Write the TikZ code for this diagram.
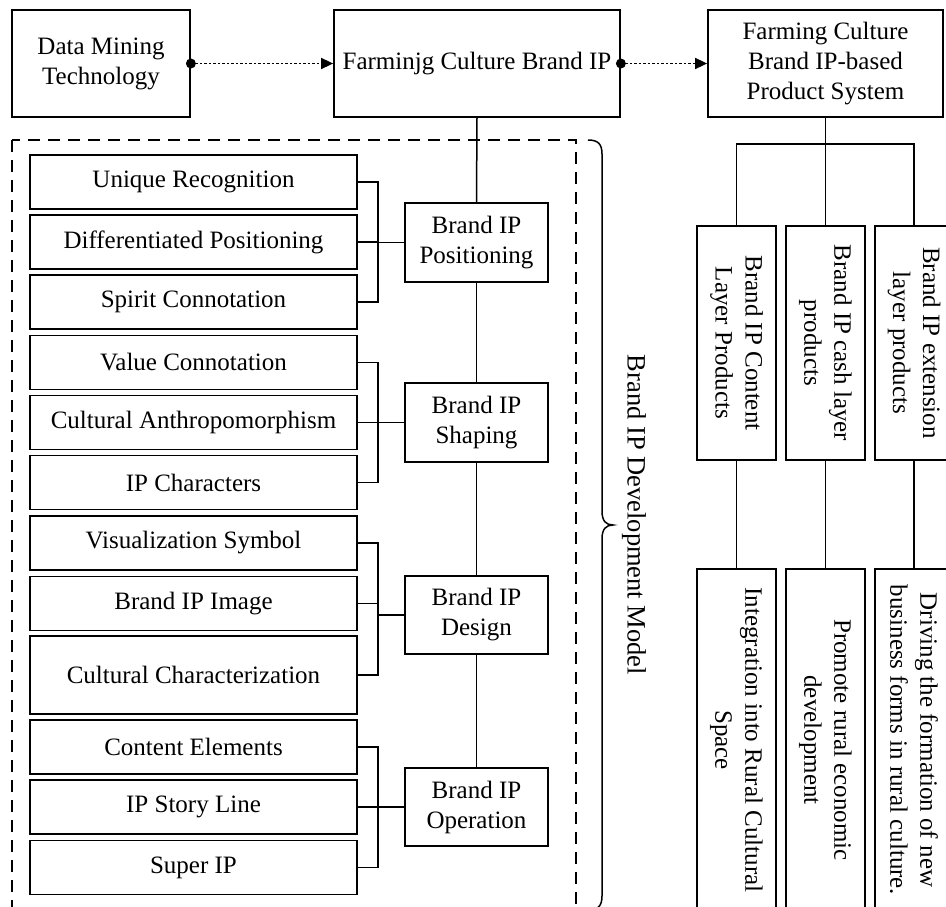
\documentclass[tikz,border=0pt]{standalone}
\usepackage{fontspec}
\setmainfont{Liberation Serif}
\usetikzlibrary{arrows.meta}
\begin{document}
\begin{tikzpicture}[x=1pt,y=-1pt,
  box/.style={draw, line width=1.8pt, inner sep=0pt, align=center, font=\fontsize{25}{30}\selectfont},
  lbox/.style={box, minimum width=327pt, minimum height=54pt},
  bbox/.style={box, minimum width=143pt, minimum height=79pt},
  topbox/.style={box, minimum height=107pt},
  pbox/.style={box, rotate=-90, minimum height=79pt},
  line/.style={line width=1.5pt},
  dotarrow/.style={line width=1.6pt, dash pattern=on 2.5pt off 2pt, -{Triangle[length=12pt,width=11pt]}},
  dashbox/.style={line width=1.6pt, dash pattern=on 12pt off 8pt},
  lbl/.style={font=\fontsize{26.5}{30}\selectfont, rotate=-90, inner sep=0pt}
]
\useasboundingbox (0,0) rectangle (946,907);
\clip (0,0) rectangle (946,907);

% top row
\node[topbox, minimum width=178pt] (dmt) at (101,63.5) {Data Mining\\Technology};
\node[topbox, minimum width=286pt] (farm) at (477,63.5) {Farminjg Culture Brand IP};
\node[topbox, minimum width=235pt] (sys) at (825.5,63.5) {Farming Culture\\Brand IP-based\\Product System};

\draw[dotarrow] (dmt.east) -- (farm.west);
\fill (dmt.east) circle (5pt);
\draw[dotarrow] (farm.east) -- (sys.west);
\fill (farm.east) circle (5pt);

% dashed model frame
\draw[dashbox] (12,140) rectangle (576,920);

% left boxes
\node[lbox] (u1) at (193.5,182) {Unique Recognition};
\node[lbox] (u2) at (193.5,242) {Differentiated Positioning};
\node[lbox] (u3) at (193.5,302) {Spirit Connotation};
\node[lbox] (s1) at (193.5,362.5) {Value Connotation};
\node[lbox] (s2) at (193.5,422.5) {Cultural Anthropomorphism};
\node[lbox] (s3) at (193.5,482.5) {IP Characters};
\node[lbox] (d1) at (193.5,543) {Visualization Symbol};
\node[lbox] (d2) at (193.5,603.5) {Brand IP Image};
\node[lbox, minimum height=78pt] (d3) at (193.5,675) {Cultural Characterization};
\node[lbox] (o1) at (193.5,747) {Content Elements};
\node[lbox] (o2) at (193.5,807) {IP Story Line};
\node[lbox] (o3) at (193.5,867.5) {Super IP};

% brand IP boxes
\node[bbox] (bp1) at (476.5,242.5) {Brand IP\\Positioning};
\node[bbox] (bp2) at (476.5,422.5) {Brand IP\\Shaping};
\node[bbox, minimum height=78pt] (bp3) at (476.5,615) {Brand IP\\Design};
\node[bbox, minimum height=78pt] (bp4) at (476.5,807) {Brand IP\\Operation};

\coordinate (brk) at (378,0);
\foreach \a/\b/\c/\m in {u1/u2/u3/bp1, s1/s2/s3/bp2, d1/d2/d3/bp3, o1/o2/o3/bp4} {
  \draw[line] (\a.east) -| (brk |- \c.east) -- (\c.east);
  \draw[line] (\b.east) -- (brk |- \b.east);
  \draw[line] (\m.west) -- (brk |- \m.west);
}

\draw[line] (farm.south) -- (bp1.north);
\draw[line] (bp1.south) -- (bp2.north);
\draw[line] (bp2.south) -- (bp3.north);
\draw[line] (bp3.south) -- (bp4.north);

% brace and label
\draw[line] (588,140) .. controls (598,140) and (602,144) .. (602,154) -- (602,511)
  .. controls (602,521) and (606,525) .. (613,525)
  .. controls (606,525) and (602,529) .. (602,539) -- (602,896)
  .. controls (602,906) and (598,910) .. (588,910);
\node[lbl] (model) at (634,515) {Brand IP Development Model};

% product boxes
\node[pbox, minimum width=234pt] (p1) at (736.5,343) {Brand IP Content\\Layer Products};
\node[pbox, minimum width=234pt] (p2) at (825.5,343) {Brand IP cash layer\\products};
\node[pbox, minimum width=234pt, minimum height=78pt] (p3) at (914,343) {Brand IP extension\\layer products};
\node[pbox, minimum width=342pt] (q1) at (736.5,740) {Integration into Rural Cultural\\Space};
\node[pbox, minimum width=342pt] (q2) at (825.5,740) {Promote rural economic\\development};
\node[pbox, minimum width=342pt, minimum height=78pt] (q3) at (914,740) {Driving the formation of new\\business forms in rural culture.};

\coordinate (jy) at (0,144);
\draw[line] (sys.south) -- (sys.south |- jy);
\draw[line] (p1.west) |- (p3.west |- jy) -- (p3.west);
\draw[line] (sys.south |- jy) -- (p2.west);
\draw[line] (p1.east) -- (q1.west);
\draw[line] (p2.east) -- (q2.west);
\draw[line] (p3.east) -- (q3.west);
\end{tikzpicture}
\end{document}
